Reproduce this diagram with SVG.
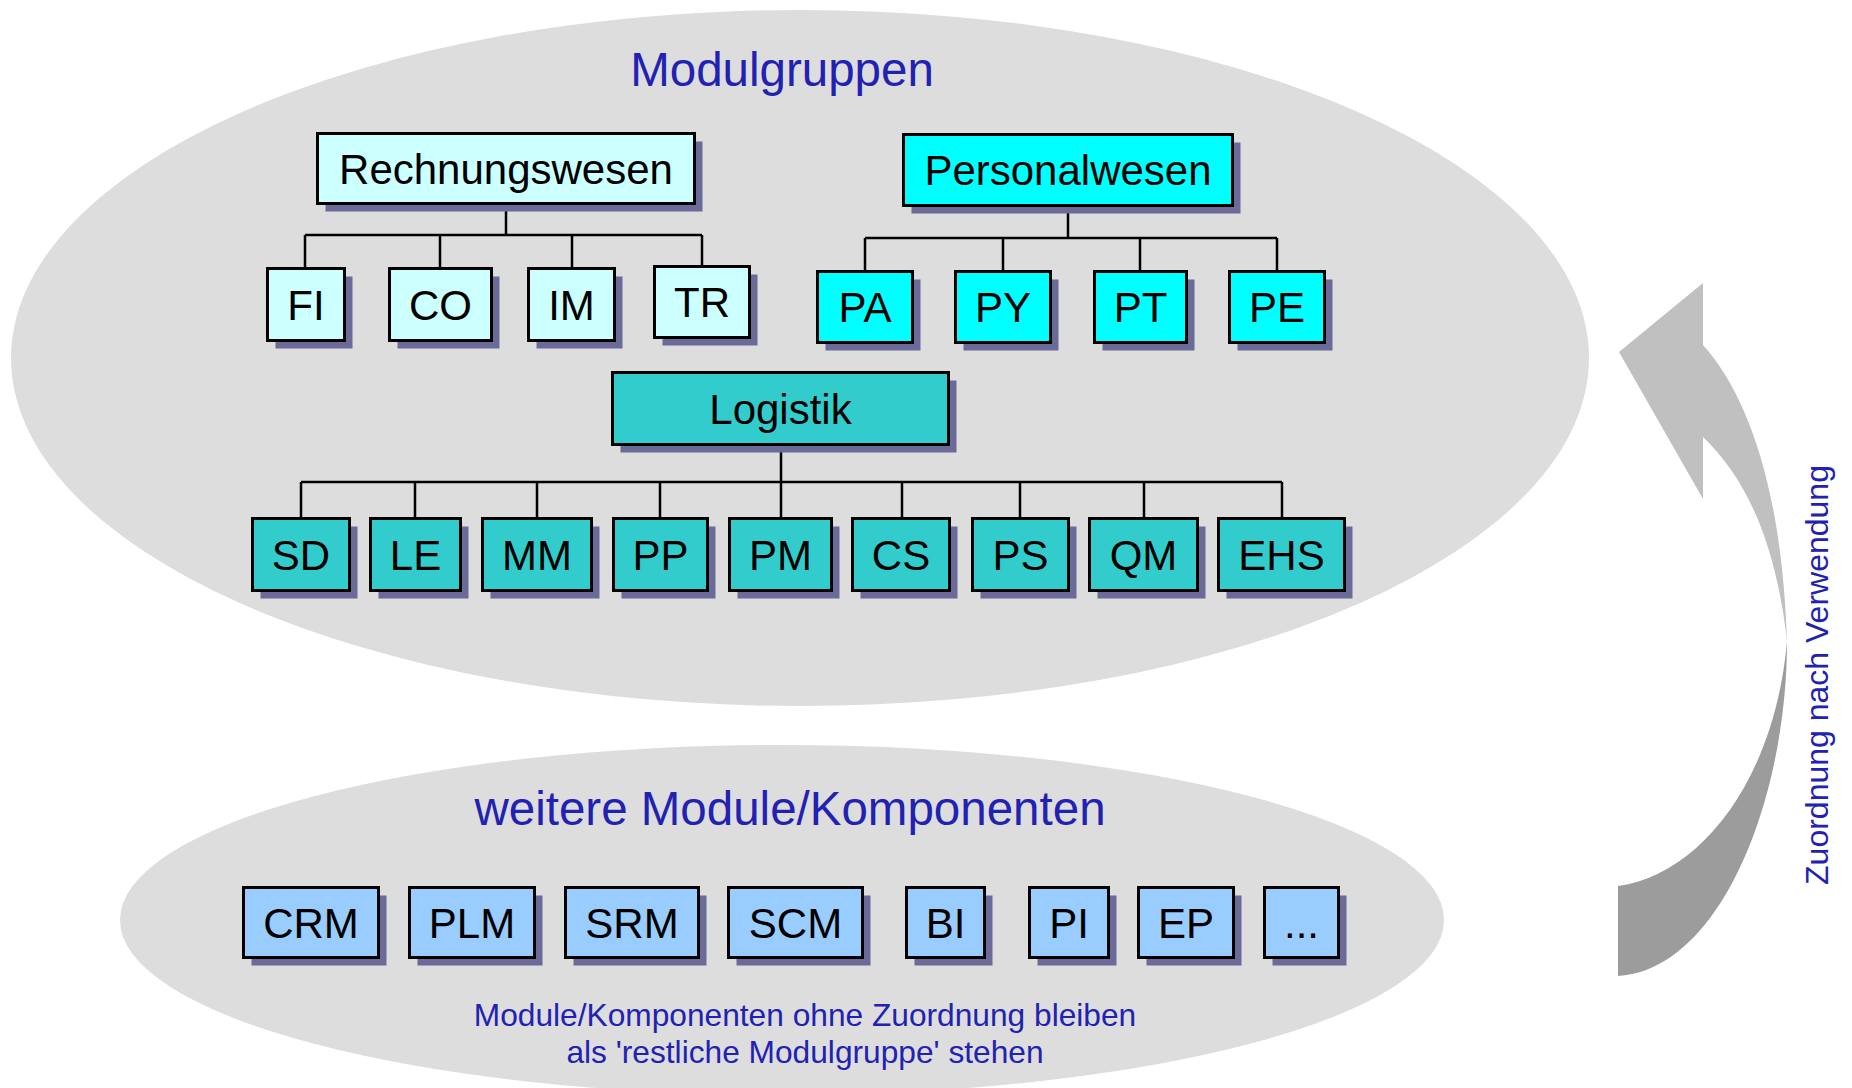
<svg xmlns="http://www.w3.org/2000/svg" width="1852" height="1088" viewBox="0 0 1852 1088">
<style>
.sh{fill:#6B6B9A}
.bx{stroke:#000;stroke-width:3}
.c1{fill:#CCFFFF}
.c2{fill:#00FFFF}
.c3{fill:#33CCCC}
.c4{fill:#99CCFF}
.lb{font-family:"Liberation Sans",Arial,sans-serif;font-size:42px;fill:#000;text-anchor:middle}
.bl{font-family:"Liberation Sans",Arial,sans-serif;fill:#2222B2;text-anchor:middle}
.cn{fill:none;stroke:#000;stroke-width:2.5}
</style>
<rect width="1852" height="1088" fill="#FFFFFF"/>
<g id="ellipses">
<ellipse cx="800" cy="358" rx="789" ry="348" fill="#DDDDDD"/>
<ellipse cx="782" cy="920" rx="662" ry="175" fill="#DDDDDD"/>
</g>
<g id="arrow">
<path d="M1619,352 L1703,283 L1703,345 C1748,395 1782,490 1787,641 C1776,545 1748,480 1703,437 L1703,499 Z" fill="#C0C0C0"/>
<path d="M1787,641 C1787,800 1720,970 1618,976 L1618,886 C1700,875 1775,780 1787,641 Z" fill="#9C9C9C"/>
</g>
<g id="titles">
<text class="bl" x="782" y="86" font-size="47.5">Modulgruppen</text>
<text class="bl" x="790" y="825" font-size="47.5">weitere Module/Komponenten</text>
<text class="bl" x="805" y="1026" font-size="31.7">Module/Komponenten ohne Zuordnung bleiben</text>
<text class="bl" x="805" y="1063" font-size="31.7">als 'restliche Modulgruppe' stehen</text>
<text class="bl" font-size="32" transform="translate(1828,675) rotate(-90)">Zuordnung nach Verwendung</text>
</g>
<g id="connectors">
<path class="cn" d="M506,205 V235 M305,235 H702 M305,235 V267 M440,235 V267 M572,235 V267 M702,235 V265"/>
<path class="cn" d="M1068,207 V238 M865,238 H1277 M865,238 V270 M1003,238 V270 M1140,238 V270 M1277,238 V270"/>
<path class="cn" d="M781,446 V482 M301,482 H1282 M301,482 V517 M415,482 V517 M537,482 V517 M660,482 V517 M781,482 V517 M902,482 V517 M1020,482 V517 M1144,482 V517 M1282,482 V517"/>
</g>
<g id="rechnungswesen"><rect class="sh" x="325.5" y="141.5" width="377" height="70"/><rect class="bx c1" x="317.5" y="133.5" width="377" height="70"/><text class="lb" x="506" y="184">Rechnungswesen</text></g>
<g id="personalwesen"><rect class="sh" x="911.5" y="142.5" width="329" height="71"/><rect class="bx c2" x="903.5" y="134.5" width="329" height="71"/><text class="lb" x="1068" y="185">Personalwesen</text></g>
<g id="fi"><rect class="sh" x="275.5" y="276.5" width="77" height="72"/><rect class="bx c1" x="267.5" y="268.5" width="77" height="72"/><text class="lb" x="306" y="319.5">FI</text></g>
<g id="co"><rect class="sh" x="397.5" y="276.5" width="102" height="72"/><rect class="bx c1" x="389.5" y="268.5" width="102" height="72"/><text class="lb" x="440.5" y="319.5">CO</text></g>
<g id="im"><rect class="sh" x="536.5" y="276.5" width="86" height="72"/><rect class="bx c1" x="528.5" y="268.5" width="86" height="72"/><text class="lb" x="571.5" y="319.5">IM</text></g>
<g id="tr"><rect class="sh" x="662.5" y="274.5" width="95" height="71"/><rect class="bx c1" x="654.5" y="266.5" width="95" height="71"/><text class="lb" x="702" y="317">TR</text></g>
<g id="pa"><rect class="sh" x="825.5" y="279.5" width="95" height="71"/><rect class="bx c2" x="817.5" y="271.5" width="95" height="71"/><text class="lb" x="865" y="322">PA</text></g>
<g id="py"><rect class="sh" x="963.5" y="279.5" width="95" height="71"/><rect class="bx c2" x="955.5" y="271.5" width="95" height="71"/><text class="lb" x="1003" y="322">PY</text></g>
<g id="pt"><rect class="sh" x="1102.5" y="279.5" width="92" height="71"/><rect class="bx c2" x="1094.5" y="271.5" width="92" height="71"/><text class="lb" x="1140.5" y="322">PT</text></g>
<g id="pe"><rect class="sh" x="1237.5" y="279.5" width="95" height="71"/><rect class="bx c2" x="1229.5" y="271.5" width="95" height="71"/><text class="lb" x="1277" y="322">PE</text></g>
<g id="logistik"><rect class="sh" x="620.5" y="380.5" width="336" height="72"/><rect class="bx c3" x="612.5" y="372.5" width="336" height="72"/><text class="lb" x="780.5" y="423.5">Logistik</text></g>
<g id="sd"><rect class="sh" x="260.5" y="526.5" width="97" height="72"/><rect class="bx c3" x="252.5" y="518.5" width="97" height="72"/><text class="lb" x="301" y="569.5">SD</text></g>
<g id="le"><rect class="sh" x="378.5" y="526.5" width="90" height="72"/><rect class="bx c3" x="370.5" y="518.5" width="90" height="72"/><text class="lb" x="415.5" y="569.5">LE</text></g>
<g id="mm"><rect class="sh" x="490.5" y="526.5" width="109" height="72"/><rect class="bx c3" x="482.5" y="518.5" width="109" height="72"/><text class="lb" x="537" y="569.5">MM</text></g>
<g id="pp"><rect class="sh" x="621.5" y="526.5" width="94" height="72"/><rect class="bx c3" x="613.5" y="518.5" width="94" height="72"/><text class="lb" x="660.5" y="569.5">PP</text></g>
<g id="pm"><rect class="sh" x="737.5" y="526.5" width="102" height="72"/><rect class="bx c3" x="729.5" y="518.5" width="102" height="72"/><text class="lb" x="780.5" y="569.5">PM</text></g>
<g id="cs"><rect class="sh" x="860.5" y="526.5" width="97" height="72"/><rect class="bx c3" x="852.5" y="518.5" width="97" height="72"/><text class="lb" x="901" y="569.5">CS</text></g>
<g id="ps"><rect class="sh" x="980.5" y="526.5" width="96" height="72"/><rect class="bx c3" x="972.5" y="518.5" width="96" height="72"/><text class="lb" x="1020.5" y="569.5">PS</text></g>
<g id="qm"><rect class="sh" x="1097.5" y="526.5" width="108" height="72"/><rect class="bx c3" x="1089.5" y="518.5" width="108" height="72"/><text class="lb" x="1143.5" y="569.5">QM</text></g>
<g id="ehs"><rect class="sh" x="1226.5" y="526.5" width="126" height="72"/><rect class="bx c3" x="1218.5" y="518.5" width="126" height="72"/><text class="lb" x="1281.5" y="569.5">EHS</text></g>
<g id="crm"><rect class="sh" x="251.5" y="895.5" width="135" height="70"/><rect class="bx c4" x="243.5" y="887.5" width="135" height="70"/><text class="lb" x="311" y="937.5">CRM</text></g>
<g id="plm"><rect class="sh" x="417.5" y="895.5" width="125" height="70"/><rect class="bx c4" x="409.5" y="887.5" width="125" height="70"/><text class="lb" x="472" y="937.5">PLM</text></g>
<g id="srm"><rect class="sh" x="573.5" y="895.5" width="133" height="70"/><rect class="bx c4" x="565.5" y="887.5" width="133" height="70"/><text class="lb" x="632" y="937.5">SRM</text></g>
<g id="scm"><rect class="sh" x="736.5" y="895.5" width="134" height="70"/><rect class="bx c4" x="728.5" y="887.5" width="134" height="70"/><text class="lb" x="795.5" y="937.5">SCM</text></g>
<g id="bi"><rect class="sh" x="914.5" y="895.5" width="78" height="70"/><rect class="bx c4" x="906.5" y="887.5" width="78" height="70"/><text class="lb" x="945.5" y="937.5">BI</text></g>
<g id="pi"><rect class="sh" x="1037.5" y="895.5" width="79" height="70"/><rect class="bx c4" x="1029.5" y="887.5" width="79" height="70"/><text class="lb" x="1069" y="937.5">PI</text></g>
<g id="ep"><rect class="sh" x="1146.5" y="895.5" width="95" height="70"/><rect class="bx c4" x="1138.5" y="887.5" width="95" height="70"/><text class="lb" x="1186" y="937.5">EP</text></g>
<g id="more"><rect class="sh" x="1272.5" y="895.5" width="74" height="70"/><rect class="bx c4" x="1264.5" y="887.5" width="74" height="70"/><text class="lb" x="1301.5" y="937.5">...</text></g>
</svg>
